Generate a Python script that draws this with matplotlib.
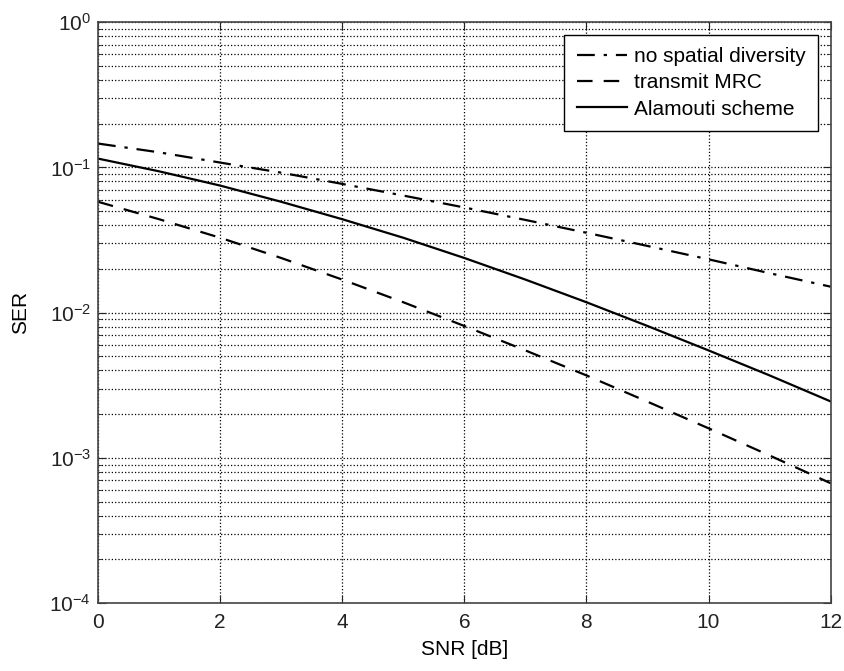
import numpy as np
import matplotlib
matplotlib.use("Agg")
import matplotlib.pyplot as plt
from matplotlib.ticker import LogLocator, NullFormatter

plt.rcParams['font.family'] = ['Liberation Sans', 'DejaVu Sans']
plt.rcParams['mathtext.fontset'] = 'custom'
plt.rcParams['mathtext.rm'] = 'Liberation Sans'
plt.rcParams['mathtext.default'] = 'regular'

# SNR in dB
snr_db = [0, 1, 2, 3, 4, 5, 6, 7, 8, 9, 10, 11, 12]

# SER
ser_no_div = [0.146, 0.127, 0.108, 0.092, 0.077, 0.064, 0.053, 0.0435, 0.0355, 0.0288, 0.0233, 0.0187, 0.0151]
ser_tx_mrc = [0.058, 0.044, 0.0328, 0.0238, 0.0169, 0.0118, 0.0081, 0.0055, 0.0037, 0.00244, 0.0016, 0.00104, 0.00067]
ser_alamouti = [0.115, 0.094, 0.075, 0.058, 0.044, 0.0328, 0.0238, 0.0169, 0.0118, 0.0081, 0.0055, 0.0037, 0.00245]

labels = ["no spatial diversity", "transmit MRC", "Alamouti scheme"]

fig = plt.figure(figsize=(8.45, 6.71), dpi=100)
ax = fig.add_axes([0.116, 0.101, 0.867, 0.866])

ax.semilogy(snr_db, ser_no_div, color='black', lw=1.6, linestyle=(0, (8, 4, 1.5, 4)), label=labels[0])
ax.semilogy(snr_db, ser_tx_mrc, color='black', lw=1.6, linestyle=(0, (7, 5)), label=labels[1])
ax.semilogy(snr_db, ser_alamouti, color='black', lw=1.6, linestyle='-', label=labels[2])

ax.set_xlim(0, 12)
ax.set_ylim(1e-4, 1)
ax.set_xticks(range(0, 13, 2))
ax.yaxis.set_major_locator(LogLocator(base=10, numticks=10))
ax.yaxis.set_minor_locator(LogLocator(base=10, subs=np.arange(2, 10), numticks=20))
ax.yaxis.set_minor_formatter(NullFormatter())

ax.grid(True, which='major', linestyle=':', color='black', lw=0.9)
ax.grid(True, which='minor', axis='y', linestyle=':', color='black', lw=0.9)

ax.tick_params(which='both', direction='in', top=True, right=True, labelsize=15, colors='#222222')
ax.tick_params(axis='x', which='major', pad=7)
ax.tick_params(axis='y', which='major', pad=5)
ax.tick_params(which='major', length=6)
ax.tick_params(which='minor', length=3)
for s in ax.spines.values():
    s.set_color('#444444')
    s.set_linewidth(1.2)

ax.set_xlabel("SNR [dB]", fontsize=15, labelpad=6)
ax.set_ylabel("SER", fontsize=15, labelpad=14)

leg = ax.legend(loc='upper right', fontsize=15, fancybox=False, edgecolor='black',
                framealpha=1, borderaxespad=0.6, handlelength=2.4, labelspacing=0.35,
                borderpad=0.6, handletextpad=0.35)
leg.get_frame().set_linewidth(1.0)

fig.savefig("out.png", dpi=100)
